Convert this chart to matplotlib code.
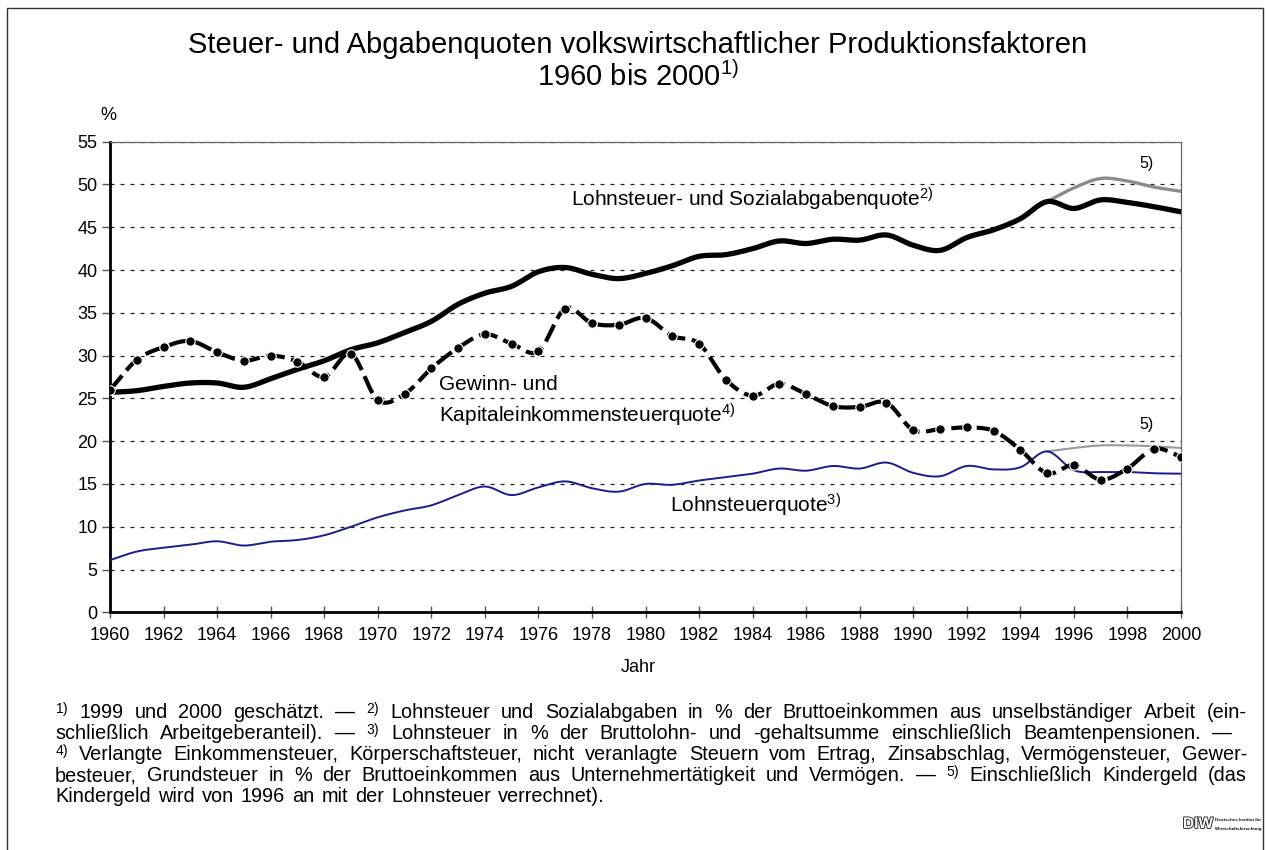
import numpy as np
import matplotlib
matplotlib.use('Agg')
import matplotlib.pyplot as plt
import matplotlib.patheffects as pe
from matplotlib.patches import Rectangle

plt.rcParams['font.family'] = ['Liberation Sans', 'DejaVu Sans']
plt.rcParams['mathtext.fontset'] = 'custom'
plt.rcParams['mathtext.rm'] = 'Liberation Sans'
plt.rcParams['mathtext.it'] = 'Liberation Sans:italic'
plt.rcParams['mathtext.bf'] = 'Liberation Sans:bold'

# Daten
years = np.arange(1960, 2001)
sozial = [25.7, 25.9, 26.4, 26.8, 26.8, 26.3, 27.3, 28.4, 29.4, 30.7,
          31.5, 32.7, 34.0, 36.0, 37.3, 38.1, 39.8, 40.3, 39.5, 39.0,
          39.6, 40.5, 41.6, 41.8, 42.5, 43.4, 43.1, 43.6, 43.5, 44.1,
          42.9, 42.3, 43.8, 44.7, 46.0, 48.0, 47.2, 48.2, 47.9, 47.4, 46.8]
gewinn = [26.0, 29.5, 31.0, 31.7, 30.4, 29.4, 30.0, 29.3, 27.5, 30.2,
          24.8, 25.5, 28.5, 30.9, 32.5, 31.4, 30.5, 35.5, 33.8, 33.6,
          34.4, 32.3, 31.4, 27.2, 25.3, 26.7, 25.5, 24.1, 24.0, 24.5,
          21.3, 21.4, 21.6, 21.2, 19.0, 16.25, 17.2, 15.5, 16.8, 19.1, 18.2]
lohn = [6.1, 7.1, 7.55, 7.9, 8.3, 7.8, 8.25, 8.45, 9.0, 10.0,
        11.1, 11.9, 12.5, 13.7, 14.7, 13.7, 14.6, 15.3, 14.5, 14.1,
        15.0, 14.9, 15.4, 15.8, 16.2, 16.8, 16.55, 17.1, 16.8, 17.5,
        16.3, 15.9, 17.1, 16.7, 16.95, 18.8, 16.6, 16.4, 16.4, 16.25, 16.2]
# einschliesslich Kindergeld (5)
kg_years = np.arange(1995, 2001)
sozial_kg = [48.0, 49.6, 50.7, 50.4, 49.7, 49.2]
lohn_kg = [18.8, 19.2, 19.5, 19.5, 19.4, 19.2]

notes = [
    '$^{\\mathrm{1)}}$ 1999 und 2000 geschätzt. — $^{\\mathrm{2)}}$ Lohnsteuer und Sozialabgaben in % der Bruttoeinkommen aus unselbständiger Arbeit (ein-',
    'schließlich Arbeitgeberanteil). — $^{\\mathrm{3)}}$ Lohnsteuer in % der Bruttolohn- und -gehaltsumme einschließlich Beamtenpensionen. —',
    '$^{\\mathrm{4)}}$ Verlangte Einkommensteuer, Körperschaftsteuer, nicht veranlagte Steuern vom Ertrag, Zinsabschlag, Vermögensteuer, Gewer-',
    'besteuer, Grundsteuer in % der Bruttoeinkommen aus Unternehmertätigkeit und Vermögen. — $^{\\mathrm{5)}}$ Einschließlich Kindergeld (das',
    'Kindergeld wird von 1996 an mit der Lohnsteuer verrechnet).',
]
# rechter Rand der Fussnotenzeilen im Original (px), None = Flattersatz
note_ends = [1247, 1232, 1247, 1247, None]

W, H = 1266, 850


def smooth(x, y, n=20):
    # Catmull-Rom Kurve durch die Punkte (wie geglättete Linie in Excel)
    x = np.asarray(x, float)
    y = np.asarray(y, float)
    px = np.concatenate([[2 * x[0] - x[1]], x, [2 * x[-1] - x[-2]]])
    py = np.concatenate([[2 * y[0] - y[1]], y, [2 * y[-1] - y[-2]]])
    t = np.linspace(0, 1, n, endpoint=False)
    xs, ys = [], []
    for i in range(len(x) - 1):
        for p, out in ((px, xs), (py, ys)):
            p0, p1, p2, p3 = p[i:i + 4]
            out.append(0.5 * (2 * p1 + (-p0 + p2) * t
                              + (2 * p0 - 5 * p1 + 4 * p2 - p3) * t ** 2
                              + (-p0 + 3 * p1 - 3 * p2 + p3) * t ** 3))
    xs.append([x[-1]])
    ys.append([y[-1]])
    return np.concatenate(xs), np.concatenate(ys)


fig = plt.figure(figsize=(W / 100, H / 100), dpi=100)
fig.patches.append(Rectangle((7 / W, -0.05), 1256 / W, 1.05 - 8 / H,
                             transform=fig.transFigure, fill=False,
                             edgecolor='#333333', lw=1.0))

ax = fig.add_axes([110 / W, 1 - 612.3 / H, 1071 / W, 470.6 / H])

ax.plot(*smooth(years, lohn), color='#1c1c8f', lw=1.4, zorder=3)
ax.plot(*smooth(kg_years, lohn_kg), color='#999999', lw=1.5, zorder=2)
ax.plot(*smooth(kg_years, sozial_kg), color='#8c8c8c', lw=2.4, zorder=4)
ax.plot(*smooth(years, sozial), color='black', lw=3.8, zorder=5,
        solid_capstyle='round')
ax.plot(*smooth(years, gewinn), color='black', lw=3.0, zorder=6,
        linestyle=(0, (4.5, 1.6)))
ax.plot(years, gewinn, 'o', color='black', ms=6.8, mec='white', mew=0.8,
        zorder=7)

ax.set_xlim(1960, 2000)
ax.set_ylim(0, 55)
ax.set_xticks(np.arange(1960, 2001, 2))
ax.set_yticks(np.arange(0, 56, 5))
ax.tick_params(axis='x', direction='inout', length=9, width=1, color='#555555',
               labelsize=13, pad=6)
ax.tick_params(axis='y', direction='out', length=6, width=1, color='#555555',
               labelsize=13, pad=3)
ax.yaxis.grid(True, linestyle=(0, (3.2, 4.8)), color='#222222', lw=0.9)
ax.set_axisbelow(True)
for s in ['left', 'bottom']:
    ax.spines[s].set_linewidth(2.0)
    ax.spines[s].set_color('black')
for s in ['top', 'right']:
    ax.spines[s].set_linewidth(0.9)
    ax.spines[s].set_color('#666666')

lab = 15
ax.text(1977.2, 48.2, 'Lohnsteuer- und Sozialabgabenquote$^{\\mathrm{2)}}$',
        fontsize=lab, va='center', ha='left')
ax.text(1972.3, 26.6, 'Gewinn- und', fontsize=lab, va='center', ha='left')
ax.text(1972.3, 23.0, 'Kapitaleinkommensteuerquote$^{\\mathrm{4)}}$',
        fontsize=lab, va='center', ha='left')
ax.text(1980.9, 12.5, 'Lohnsteuerquote$^{\\mathrm{3)}}$', fontsize=lab,
        va='center', ha='left')
ax.text(1998.7, 52.5, '5)', fontsize=11.5, va='center', ha='center')
ax.text(1998.7, 22.0, '5)', fontsize=11.5, va='center', ha='center')

fig.text(638 / W, 1 - 668 / H, 'Jahr', fontsize=13, ha='center', va='center')
fig.text(108 / W, 1 - 115 / H, '%', fontsize=13, ha='center', va='center')

fig.text(638 / W, 1 - 45 / H,
         'Steuer- und Abgabenquoten volkswirtschaftlicher Produktionsfaktoren',
         fontsize=21, ha='center', va='center')
fig.text(638 / W, 1 - 77 / H, '1960 bis 2000$^{\\mathrm{1)}}$',
         fontsize=21, ha='center', va='center')

# Fussnoten, Zeilen wie im Original umbrochen
renderer = fig.canvas.get_renderer()
fs = 14.3
left = 55
for i, (line, end) in enumerate(zip(notes, note_ends)):
    y = 1 - (718 + 21 * i) / H
    words = line.split(' ')
    texts = [fig.text(0, y, w, fontsize=fs, ha='left', va='baseline')
             for w in words]
    widths = [t.get_window_extent(renderer).width for t in texts]
    if end is not None:
        gap = (end - left - sum(widths)) / (len(words) - 1)
    else:
        gap = 0.36 * fs * 100 / 72
    x = left
    for t, w in zip(texts, widths):
        t.set_x(x / W)
        x += w + gap

# DIW Logo
diw = fig.text(1183 / W, 1 - 824 / H, 'DIW', fontsize=14, fontweight='bold',
               color='white', ha='left', va='center',
               path_effects=[pe.withStroke(linewidth=1.3, foreground='#222222')])
w = diw.get_window_extent(renderer).width
diw.set_fontsize(14 * 30 / w)
for txt, yy in [('Deutsches Institut für', 820), ('Wirtschaftsforschung', 829)]:
    t = fig.text(1215 / W, 1 - yy / H, txt, fontsize=6, fontweight='bold',
                 color='#111111', ha='left', va='center')
    w = t.get_window_extent(renderer).width
    t.set_fontsize(6 * 47 / w)

plt.savefig('out.png', dpi=100)
